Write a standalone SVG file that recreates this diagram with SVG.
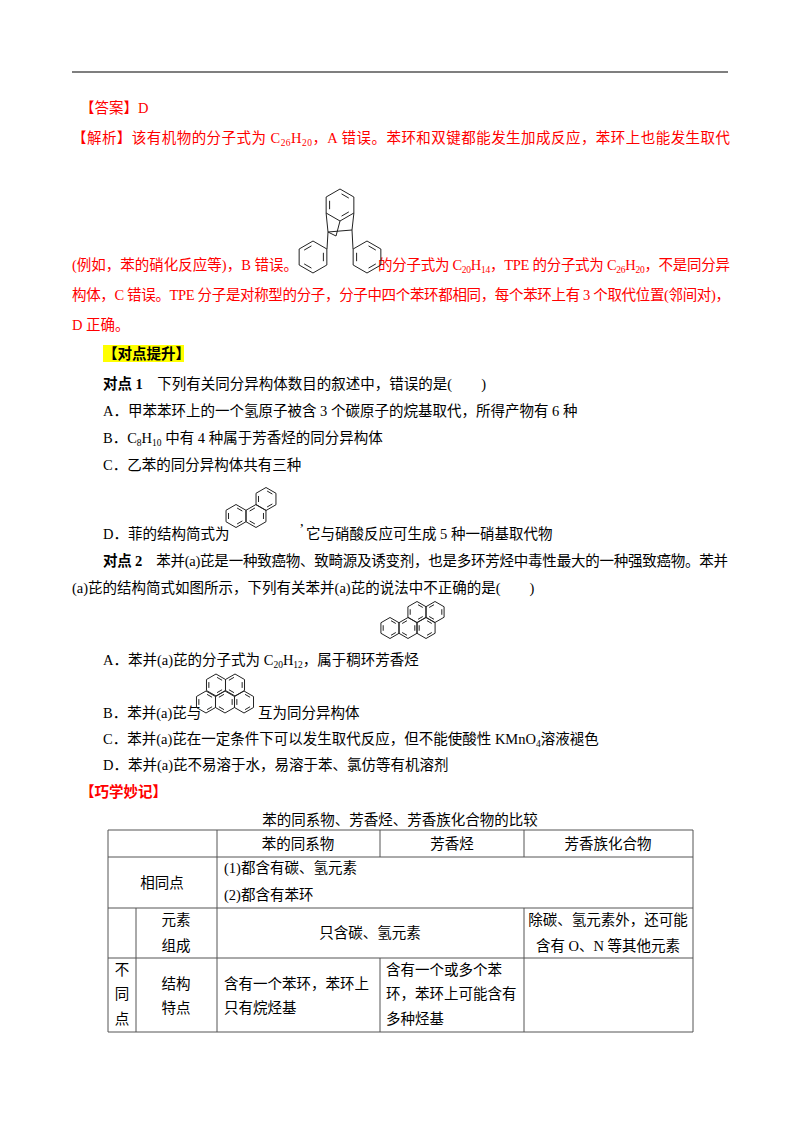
<svg xmlns="http://www.w3.org/2000/svg" width="800" height="1132" viewBox="0 0 800 1132">
<style>
text{font-family:"Liberation Serif","Noto Sans CJK SC",serif;font-size:14.5px;fill:#000}
.r{fill:#ff0000}
.b{font-weight:bold}
.sub{font-size:9.5px}
.hx{fill:none;stroke:#222;stroke-width:1}
.t{stroke:#555;stroke-width:1;fill:none}
.c{text-anchor:middle}
</style>
<defs>
<g id="hx" class="hx">
<polygon points="0,-10 8.66,-5 8.66,5 0,10 -8.66,5 -8.66,-5" vector-effect="non-scaling-stroke"/>
<path d="M0.97,-6.94L5.52,-4.31M5.52,4.31L0.97,6.94M-6.5,2.63L-6.5,-2.63" vector-effect="non-scaling-stroke"/>
</g>
</defs>
<line x1="72" y1="72" x2="728" y2="72" stroke="#000" stroke-width="1.2"/>
<g id="answer">
<text class="r" x="80" y="113">【答案】D</text>
<text class="r" x="72" y="143" textLength="658">【解析】该有机物的分子式为 C<tspan class="sub" dy="3">26</tspan><tspan dy="-3">H</tspan><tspan class="sub" dy="3">20</tspan><tspan dy="-3">，A 错误。苯环和双键都能发生加成反应，苯环上也能发生取代</tspan></text>
<text class="r" x="72" y="270">(例如，苯的硝化反应等)，B 错误。</text>
<text class="r" x="378" y="270" textLength="352">的分子式为 C<tspan class="sub" dy="3">20</tspan><tspan dy="-3">H</tspan><tspan class="sub" dy="3">14</tspan><tspan dy="-3">，TPE 的分子式为 C</tspan><tspan class="sub" dy="3">26</tspan><tspan dy="-3">H</tspan><tspan class="sub" dy="3">20</tspan><tspan dy="-3">，不是同分异</tspan></text>
<text class="r" x="72" y="300" textLength="658">构体，C 错误。TPE 分子是对称型的分子，分子中四个苯环都相同，每个苯环上有 3 个取代位置(邻间对)，</text>
<text class="r" x="72" y="330">D 正确。</text>
</g>
<g id="triptycene">
<use href="#hx" transform="translate(340,205) scale(1.6)"/>
<use href="#hx" transform="translate(313,257) scale(1.6) rotate(60)"/>
<use href="#hx" transform="translate(367,257) scale(1.6)"/>
<path class="hx" d="M326.1,213L328,232L327,249M353.9,213L352,230L353,249M328,232L352,230M340,221L336,236M336,236L328,232"/>
</g>
<rect x="103" y="345" width="81" height="17" fill="#ffff00"/>
<text class="b" x="103" y="359">【对点提升】</text>
<text x="103" y="389"><tspan class="b">对点 1</tspan>　下列有关同分异构体数目的叙述中，错误的是(　　)</text>
<text x="103" y="416">A．甲苯苯环上的一个氢原子被含 3 个碳原子的烷基取代，所得产物有 6 种</text>
<text x="103" y="443">B．C<tspan class="sub" dy="3">8</tspan><tspan dy="-3">H</tspan><tspan class="sub" dy="3">10</tspan><tspan dy="-3"> 中有 4 种属于芳香烃的同分异构体</tspan></text>
<text x="103" y="470">C．乙苯的同分异构体共有三种</text>
<text x="103" y="539">D．菲的结构简式为</text>
<g id="phenanthrene">
<use href="#hx" transform="translate(236,516) scale(1.15)"/>
<use href="#hx" transform="translate(256,516) scale(1.15) rotate(60)"/>
<use href="#hx" transform="translate(266,499) scale(1.15)"/>
</g>
<text x="300" y="526">,</text>
<text x="306" y="539">它与硝酸反应可生成 5 种一硝基取代物</text>
<text x="103" y="566" textLength="625"><tspan class="b">对点 2</tspan>　苯并(a)芘是一种致癌物、致畸源及诱变剂，也是多环芳烃中毒性最大的一种强致癌物。苯并</text>
<text x="72" y="593">(a)芘的结构简式如图所示，下列有关苯并(a)芘的说法中不正确的是(　　)</text>
<g id="benzopyrene">
<use href="#hx" transform="translate(390,628) scale(1.05)"/>
<use href="#hx" transform="translate(408,628) scale(1.05) rotate(60)"/>
<use href="#hx" transform="translate(426,628) scale(1.05)"/>
<use href="#hx" transform="translate(417,612) scale(1.05)"/>
<use href="#hx" transform="translate(435,612) scale(1.05) rotate(60)"/>
</g>
<text x="103" y="665">A．苯并(a)芘的分子式为 C<tspan class="sub" dy="3">20</tspan><tspan dy="-3">H</tspan><tspan class="sub" dy="3">12</tspan><tspan dy="-3">，属于稠环芳香烃</tspan></text>
<text x="103" y="718">B．苯并(a)芘与</text>
<g id="pyrene">
<use href="#hx" transform="translate(216,685) scale(1.1)"/>
<use href="#hx" transform="translate(235,685) scale(1.1) rotate(60)"/>
<use href="#hx" transform="translate(206,702) scale(1.1)"/>
<use href="#hx" transform="translate(225,702) scale(1.1) rotate(60)"/>
<use href="#hx" transform="translate(244,702) scale(1.1)"/>
</g>
<text x="258" y="718">互为同分异构体</text>
<text x="103" y="744">C．苯并(a)芘在一定条件下可以发生取代反应，但不能使酸性 KMnO<tspan class="sub" dy="3">4</tspan><tspan dy="-3">溶液褪色</tspan></text>
<text x="103" y="770">D．苯并(a)芘不易溶于水，易溶于苯、氯仿等有机溶剂</text>
<text class="r b" x="80" y="797">【巧学妙记】</text>
<text class="c" x="400" y="825">苯的同系物、芳香烃、芳香族化合物的比较</text>
<g id="table">
<path class="t" d="M108,830H693V1032H108ZM108,857H693M108,908H693M108,958H693M136,908V1032M217,830V1032M380,830V857M524,830V857M380,958V1032M524,908V1032"/>
<text class="c" x="298" y="849">苯的同系物</text>
<text class="c" x="452" y="849">芳香烃</text>
<text class="c" x="608" y="849">芳香族化合物</text>
<text class="c" x="162" y="888">相同点</text>
<text x="224" y="873">(1)都含有碳、氢元素</text>
<text x="224" y="900">(2)都含有苯环</text>
<text class="c" x="176" y="925">元素</text>
<text class="c" x="176" y="951">组成</text>
<text class="c" x="370" y="938">只含碳、氢元素</text>
<text class="c" x="608" y="925">除碳、氢元素外，还可能</text>
<text class="c" x="608" y="951">含有 O、N 等其他元素</text>
<text class="c" x="122" y="975">不</text>
<text class="c" x="122" y="999">同</text>
<text class="c" x="122" y="1024">点</text>
<text class="c" x="176" y="989">结构</text>
<text class="c" x="176" y="1013">特点</text>
<text x="224" y="989">含有一个苯环，苯环上</text>
<text x="224" y="1013">只有烷烃基</text>
<text x="386" y="975">含有一个或多个苯</text>
<text x="386" y="999">环，苯环上可能含有</text>
<text x="386" y="1024">多种烃基</text>
</g>
</svg>
